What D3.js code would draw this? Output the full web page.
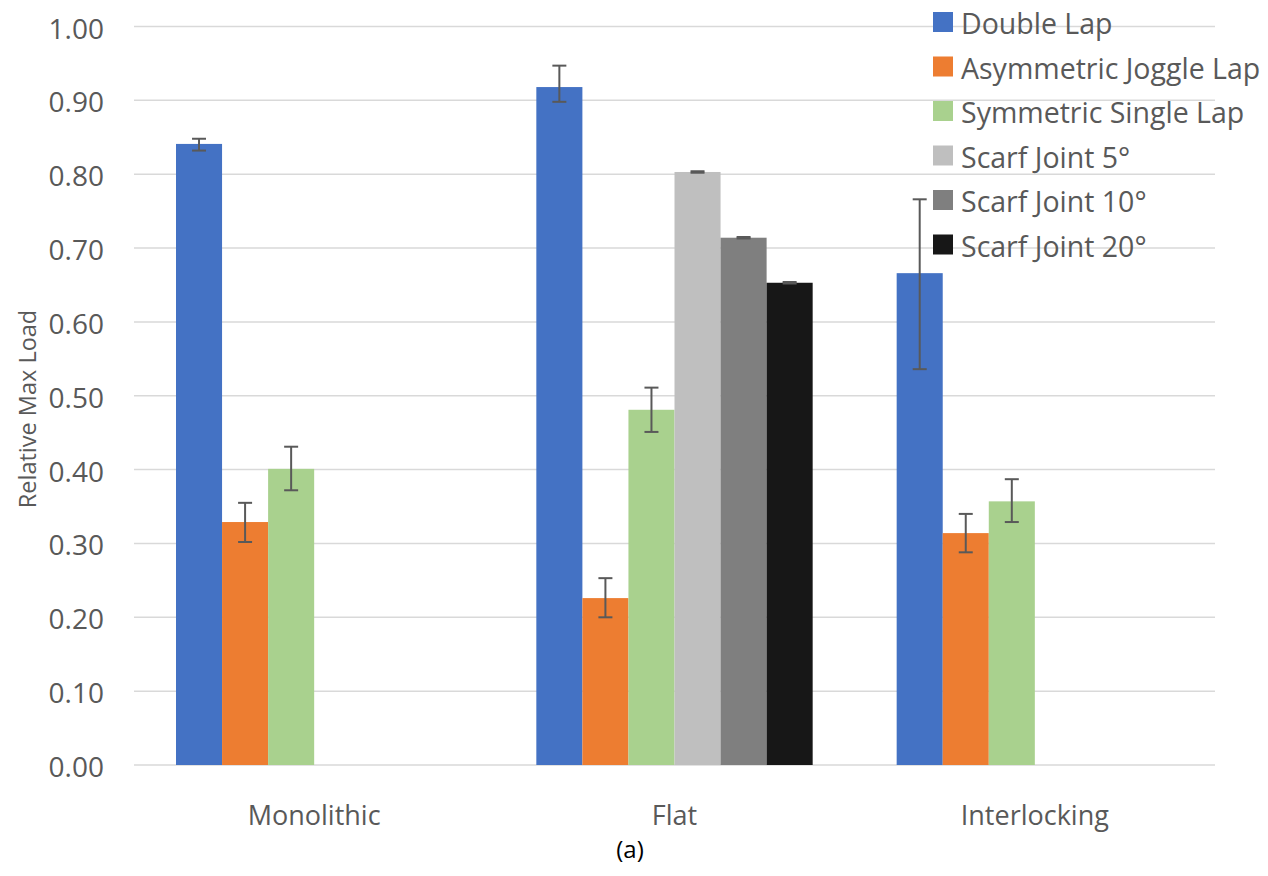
<!DOCTYPE html>
<html>
<head>
<meta charset="utf-8">
<script src="https://cdn.jsdelivr.net/npm/d3@7"></script>
<style>
  body { margin: 0; background: #fff; }
  text { font-family: "Open Sans", sans-serif; fill: #595959; }
</style>
</head>
<body>
<svg id="chart" width="1268" height="876"></svg>
<script>
// data
var categories = ["Monolithic", "Flat", "Interlocking"];
var seriesNames = ["Double Lap", "Asymmetric Joggle Lap", "Symmetric Single Lap",
                   "Scarf Joint 5°", "Scarf Joint 10°", "Scarf Joint 20°"];
var seriesColors = ["#4472c4", "#ed7d31", "#a9d18e", "#bfbfbf", "#7f7f7f", "#171717"];

var doubleLap  = [0.841, 0.918, 0.666];
var asymJoggle = [0.329, 0.226, 0.314];
var symSingle  = [0.401, 0.481, 0.357];
var scarf5     = [null, 0.803, null];
var scarf10    = [null, 0.714, null];
var scarf20    = [null, 0.653, null];

var errPlus  = [[0.007, 0.029, 0.100], [0.026, 0.027, 0.026], [0.030, 0.030, 0.030],
                [0, 0.001, 0], [0, 0.001, 0], [0, 0.001, 0]];
var errMinus = [[0.009, 0.020, 0.130], [0.027, 0.026, 0.026], [0.029, 0.030, 0.028],
                [0, 0.001, 0], [0, 0.001, 0], [0, 0.001, 0]];

var yTicks = [0, 0.1, 0.2, 0.3, 0.4, 0.5, 0.6, 0.7, 0.8, 0.9, 1.0];

var allValues = [doubleLap, asymJoggle, symSingle, scarf5, scarf10, scarf20];

var svg = d3.select("#chart");
var PLOT = { left: 134, right: 1215, top: 26.5, bottom: 765 };

var x = d3.scaleBand().domain(categories).range([PLOT.left, PLOT.right]);
var groupPad = 42;
var xs = d3.scaleBand().domain(seriesNames).range([groupPad, x.bandwidth() - groupPad]);
var y = d3.scaleLinear().domain([0, 1]).range([PLOT.bottom, PLOT.top]);

// gridlines
svg.append("g").selectAll("line").data(yTicks).join("line")
  .attr("x1", PLOT.left).attr("x2", PLOT.right)
  .attr("y1", d => y(d)).attr("y2", d => y(d))
  .attr("stroke", "#d9d9d9").attr("stroke-width", 1.5);

// y tick labels
svg.append("g").selectAll("text").data(yTicks).join("text")
  .attr("x", 104).attr("y", d => y(d) + 1)
  .attr("text-anchor", "end").attr("dominant-baseline", "central")
  .style("font-size", "28px")
  .text(d => d3.format(".2f")(d));

// bars
var rows = [];
allValues.forEach(function (vals, si) {
  vals.forEach(function (v, ci) {
    if (v != null) rows.push({ s: si, c: ci, v: v, up: errPlus[si][ci], dn: errMinus[si][ci] });
  });
});

var bars = svg.append("g");
bars.selectAll("rect").data(rows).join("rect")
  .attr("x", d => x(categories[d.c]) + xs(seriesNames[d.s]))
  .attr("width", xs.bandwidth())
  .attr("y", d => y(d.v))
  .attr("height", d => y(0) - y(d.v))
  .attr("fill", d => seriesColors[d.s]);

// error bars
var capW = 7;
var eb = svg.append("g").attr("stroke", "#595959").attr("stroke-width", 2);
rows.forEach(function (d) {
  var cx = x(categories[d.c]) + xs(seriesNames[d.s]) + xs.bandwidth() / 2;
  var y1 = y(d.v + d.up), y2 = y(d.v - d.dn);
  eb.append("line").attr("x1", cx).attr("x2", cx).attr("y1", y1).attr("y2", y2);
  eb.append("line").attr("x1", cx - capW).attr("x2", cx + capW).attr("y1", y1).attr("y2", y1);
  eb.append("line").attr("x1", cx - capW).attr("x2", cx + capW).attr("y1", y2).attr("y2", y2);
});

// category labels
svg.append("g").selectAll("text").data(categories).join("text")
  .attr("x", d => x(d) + x.bandwidth() / 2).attr("y", 825)
  .attr("text-anchor", "middle")
  .style("font-size", "27px")
  .text(d => d);

// y axis title
svg.append("text")
  .attr("transform", "translate(36,409) rotate(-90)")
  .attr("text-anchor", "middle")
  .style("font-size", "23.5px")
  .text("Relative Max Load");

// legend
var leg = svg.append("g").attr("transform", "translate(933,12)");
var li = leg.selectAll("g").data(seriesNames).join("g")
  .attr("transform", (d, i) => "translate(0," + (i * 44.5) + ")");
li.append("rect").attr("width", 20).attr("height", 20)
  .attr("fill", (d, i) => seriesColors[i]);
li.append("text").attr("x", 28).attr("y", 11)
  .attr("dominant-baseline", "central")
  .style("font-size", "28.5px")
  .text(d => d);

// panel label
svg.append("text")
  .attr("x", 630).attr("y", 858).attr("text-anchor", "middle")
  .style("font-size", "24px").style("fill", "#000")
  .text("(a)");
</script>
</body>
</html>
